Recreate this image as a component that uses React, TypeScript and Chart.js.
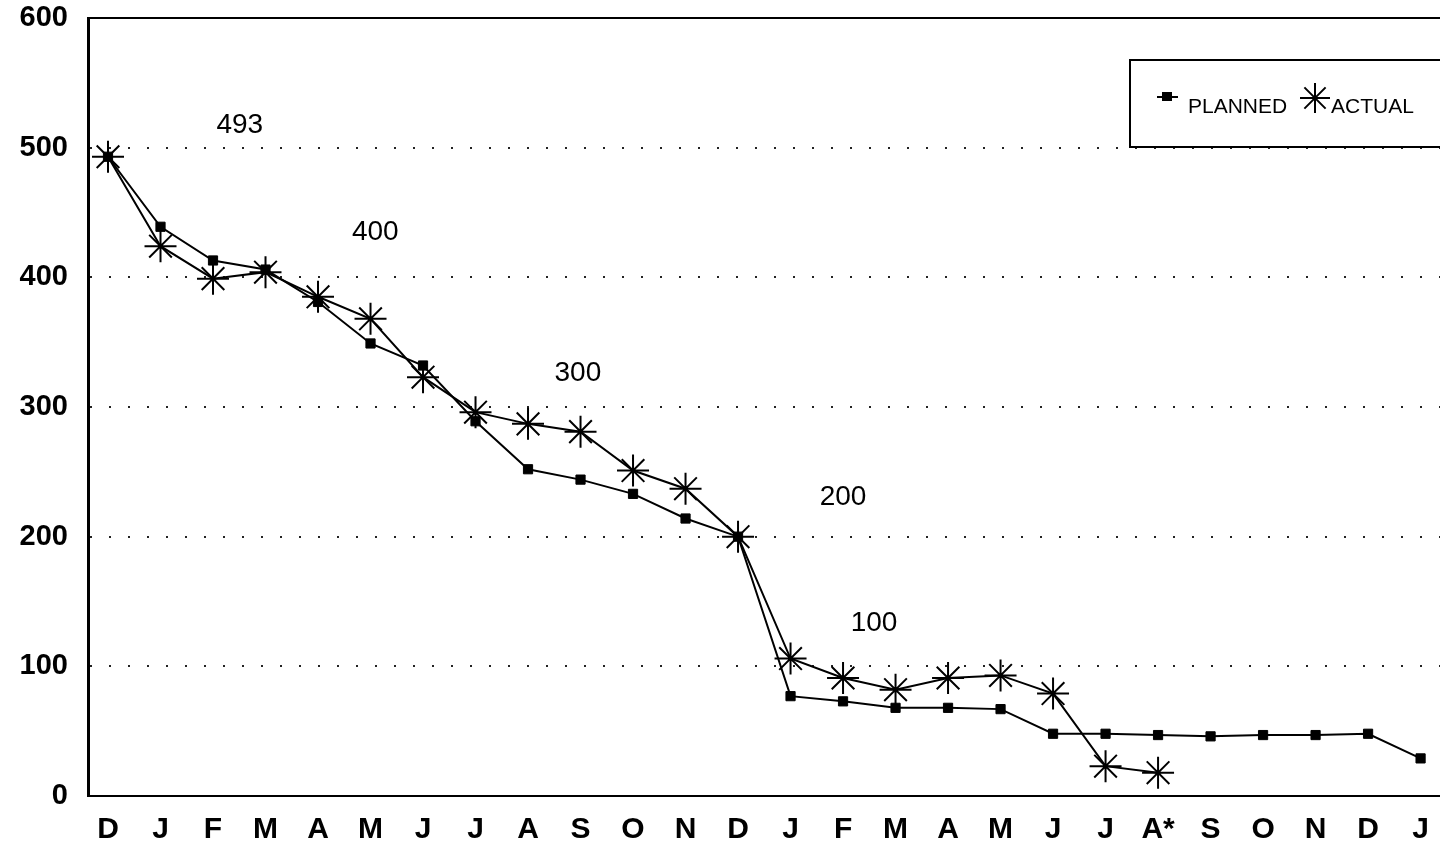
import React, { useEffect, useRef } from 'react';
import { Chart, registerables } from 'chart.js';

Chart.register(...registerables);

const monthLabels = ['D', 'J', 'F', 'M', 'A', 'M', 'J', 'J', 'A', 'S', 'O', 'N', 'D', 'J', 'F', 'M', 'A', 'M', 'J', 'J', 'A*', 'S', 'O', 'N', 'D', 'J'];
const plannedValues = [493, 439, 413, 406, 381, 349, 332, 289, 252, 244, 233, 214, 200, 77, 73, 68, 68, 67, 48, 48, 47, 46, 47, 47, 48, 29];
const actualValues: (number | null)[] = [493, 424, 399, 404, 385, 368, 323, 296, 287, 281, 251, 237, 200, 106, 91, 82, 91, 93, 79, 23, 18, null, null, null, null, null];
const yTicks = [0, 100, 200, 300, 400, 500, 600];
const noteTexts = ['493', '400', '300', '200', '100'];
const noteX = [2.51, 5.09, 8.95, 14.0, 14.59];
const noteY = [517, 435, 326, 230, 133];

const FONT = '"Liberation Sans", Arial, Helvetica, sans-serif';

const framePlugin = {
  id: 'framePlugin',
  afterDraw(chart: any) {
    const { ctx, chartArea, scales } = chart;
    ctx.save();
    ctx.strokeStyle = '#000';
    ctx.lineWidth = 2;
    ctx.beginPath();
    ctx.moveTo(chartArea.left, chartArea.top);
    ctx.lineTo(chartArea.right, chartArea.top);
    ctx.stroke();

    ctx.fillStyle = '#000';
    ctx.font = `28px ${FONT}`;
    ctx.textAlign = 'center';
    ctx.textBaseline = 'middle';
    noteTexts.forEach((t, i) => {
      ctx.fillText(t, scales.x.getPixelForValue(noteX[i]), scales.y.getPixelForValue(noteY[i]));
    });

    ctx.lineWidth = 2;
    ctx.beginPath();
    ctx.moveTo(1445, 60);
    ctx.lineTo(1130, 60);
    ctx.lineTo(1130, 147);
    ctx.lineTo(1445, 147);
    ctx.stroke();

    ctx.beginPath();
    ctx.moveTo(1157, 97);
    ctx.lineTo(1178, 97);
    ctx.stroke();
    ctx.fillRect(1162, 92, 10, 9);
    ctx.font = `21px ${FONT}`;
    ctx.textAlign = 'left';
    ctx.textBaseline = 'alphabetic';
    ctx.fillText('PLANNED', 1188, 113);

    const cx = 1315, cy = 98, r = 15;
    ctx.beginPath();
    for (let k = 0; k < 4; k++) {
      const a = (k * Math.PI) / 4;
      ctx.moveTo(cx - r * Math.cos(a), cy - r * Math.sin(a));
      ctx.lineTo(cx + r * Math.cos(a), cy + r * Math.sin(a));
    }
    ctx.stroke();
    ctx.fillText('ACTUAL', 1331, 113);
    ctx.restore();
  },
};

export default function App() {
  const ref = useRef<HTMLCanvasElement>(null);
  useEffect(() => {
    const chart = new Chart(ref.current!, {
      type: 'line',
      data: {
        datasets: [
          {
            label: 'PLANNED',
            data: plannedValues.map((v, i) => ({ x: i, y: v })),
            borderColor: '#000',
            backgroundColor: '#000',
            borderWidth: 2,
            pointStyle: 'rect',
            pointRadius: 6.5,
            pointBorderWidth: 1,
            tension: 0,
          },
          {
            label: 'ACTUAL',
            data: actualValues.map((v, i) => ({ x: i, y: v })),
            borderColor: '#000',
            backgroundColor: '#000',
            borderWidth: 2,
            pointStyle: 'star',
            pointRadius: 16,
            pointBorderWidth: 2,
            tension: 0,
            spanGaps: false,
          },
        ],
      },
      options: {
        animation: false,
        responsive: false,
        parsing: false as any,
        layout: { autoPadding: false, padding: { top: 18, right: 0, left: 0, bottom: 0 } },
        plugins: { legend: { display: false }, tooltip: { enabled: false } },
        scales: {
          x: {
            type: 'linear',
            min: -0.381,
            max: 25.37,
            afterFit: (s: any) => { s.height = 46; s.paddingLeft = 0; s.paddingRight = 0; },
            grid: { display: false, drawTicks: false },
            border: { display: true, color: '#000', width: 2 },
            ticks: {
              stepSize: 1,
              includeBounds: false,
              autoSkip: false,
              maxRotation: 0,
              padding: 16,
              color: '#000',
              font: { family: FONT, size: 30, weight: 'bold' },
              callback: (v: any) => monthLabels[v] ?? '',
            },
          },
          y: {
            type: 'linear',
            min: 0,
            max: 600,
            afterFit: (s: any) => { s.width = 88; s.paddingTop = 0; s.paddingBottom = 0; },
            afterBuildTicks: (s: any) => { s.ticks = yTicks.map((v) => ({ value: v })); },
            grid: {
              drawTicks: false,
              lineWidth: 2,
              color: (c: any) => (c.tick && (c.tick.value === 0 || c.tick.value === 600) ? 'rgba(0,0,0,0)' : '#222'),
            },
            border: { display: true, color: '#000', width: 3, dash: [2, 17] },
            ticks: {
              padding: 20,
              color: '#000',
              font: { family: FONT, size: 29, weight: 'bold' },
            },
          },
        },
      },
      plugins: [framePlugin],
    } as any);
    return () => chart.destroy();
  }, []);
  return (
    <div style={{ position: 'fixed', left: 0, top: 0, width: 1440, height: 842, background: '#fff' }}>
      <canvas ref={ref} width={1440} height={842} style={{ display: 'block', width: 1440, height: 842 }} />
    </div>
  );
}
